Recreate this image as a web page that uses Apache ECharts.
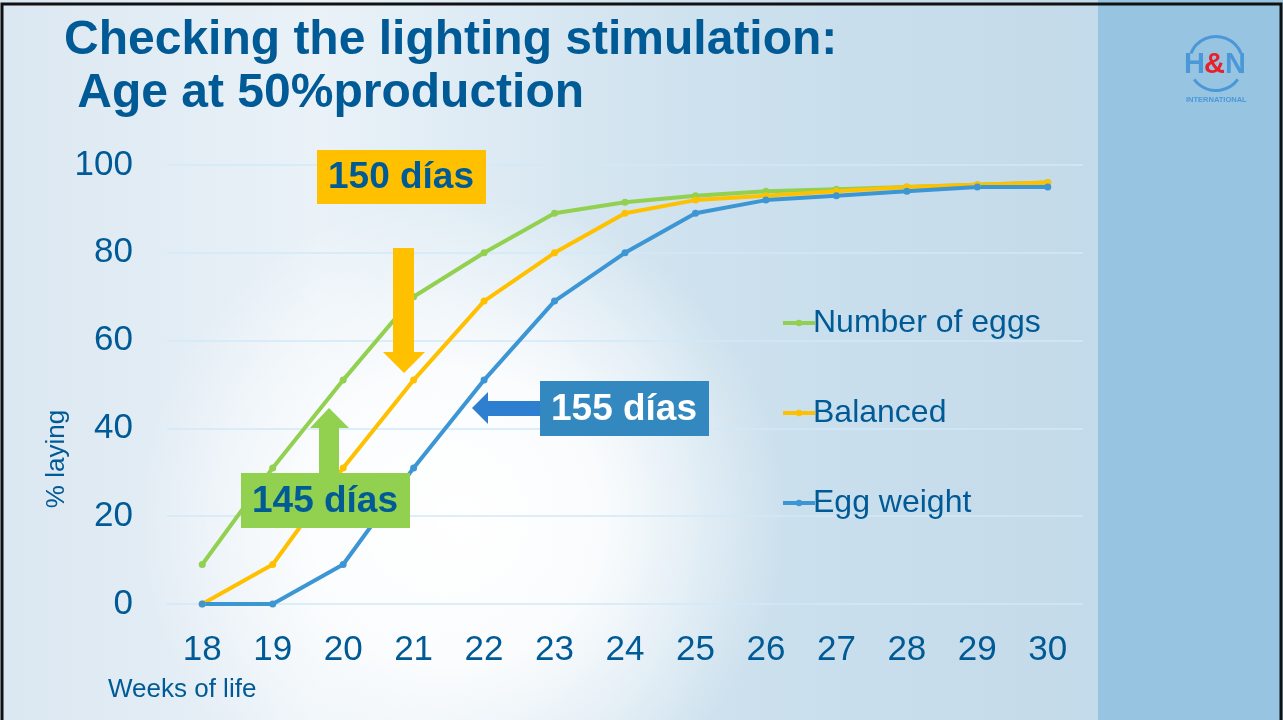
<!DOCTYPE html>
<html>
<head>
<meta charset="utf-8">
<script src="https://cdn.jsdelivr.net/npm/echarts@6/dist/echarts.min.js"></script>
<style>
  html, body { margin: 0; padding: 0; }
  #main { width: 1283px; height: 720px; }
</style>
</head>
<body>
<div id="main"></div>
<script>
// semanas de vida
const weeks = ['18', '19', '20', '21', '22', '23', '24', '25', '26', '27', '28', '29', '30']
// % puesta
const numberOfEggs = [9, 31, 51, 70, 80, 89, 91.5, 93, 94, 94.5, 95, 95.5, 96]
const balanced = [0, 9, 31, 51, 69, 80, 89, 92, 93, 94, 95, 95.5, 96]
const eggWeight = [0, 0, 9, 31, 51, 69, 80, 89, 92, 93, 94, 95, 95]
const yTicks = [0, 20, 40, 60, 80, 100]

const dark = '#005a96'
const green = '#92d050'
const orange = '#ffc000'
const blue = '#3d96d4'
const font = 'Liberation Sans, Arial, sans-serif'

const chart = echarts.init(document.getElementById('main'))

const mkSeries = (name, data, color) => ({
  name: name,
  type: 'line',
  data: data,
  symbol: 'circle',
  symbolSize: 7,
  lineStyle: { width: 4, color: color },
  itemStyle: { color: color },
  z: 3
})

const option = {
  animation: false,
  textStyle: { fontFamily: font },
  grid: { left: 167, right: 200, top: 165, bottom: 116 },
  legend: {
    orient: 'vertical',
    left: 776,
    top: 302,
    itemWidth: 32,
    itemHeight: 8,
    itemGap: 58,
    lineStyle: { width: 4 },
    textStyle: { color: dark, fontSize: 32, lineHeight: 32, fontFamily: font, padding: [0, 0, 0, -7] },
    data: ['Number of eggs', 'Balanced', 'Egg weight']
  },
  xAxis: {
    type: 'category',
    data: weeks,
    boundaryGap: true,
    axisLine: { show: false },
    axisTick: { show: false },
    axisLabel: { color: dark, fontSize: 35, margin: 29, fontFamily: font }
  },
  yAxis: {
    type: 'value',
    min: 0,
    max: 100,
    interval: 20,
    axisLabel: {
      color: dark, fontSize: 35, margin: 34, fontFamily: font,
      formatter: v => yTicks.includes(v) ? String(v) : ''
    },
    splitLine: { lineStyle: { color: '#d2e9f9', width: 1.5 } }
  },
  graphic: [
    // fondo
    {
      type: 'rect', z: -10, silent: true,
      shape: { x: 0, y: 0, width: 1283, height: 720 },
      style: {
        fill: new echarts.graphic.LinearGradient(0, 0, 1, 0, [
          { offset: 0, color: '#dbe7f1' },
          { offset: 0.25, color: '#eaf2f8' },
          { offset: 0.55, color: '#cde1ee' },
          { offset: 1, color: '#bfd7e8' }
        ])
      }
    },
    {
      type: 'rect', z: -9, silent: true,
      shape: { x: 0, y: 0, width: 1283, height: 720 },
      style: {
        fill: new echarts.graphic.RadialGradient(0.36, 0.72, 0.45, [
          { offset: 0, color: 'rgba(255,255,255,1)' },
          { offset: 0.45, color: 'rgba(255,255,255,0.85)' },
          { offset: 1, color: 'rgba(255,255,255,0)' }
        ])
      }
    },
    {
      type: 'rect', z: -8, silent: true,
      shape: { x: 1098, y: 0, width: 185, height: 720 },
      style: { fill: '#97c4e1' }
    },
    {
      type: 'rect', z: 50, silent: true,
      shape: { x: 2, y: 4, width: 1279, height: 720 },
      style: { fill: 'none', stroke: '#111', lineWidth: 3 }
    },
    // titulo
    {
      type: 'text', left: 64, top: 14, z: 10,
      style: {
        text: 'Checking the lighting stimulation:\n Age at 50%production',
        fill: dark, font: 'bold 48px ' + font, lineHeight: 53
      }
    },
    // logo
    {
      type: 'group', left: 1184, top: 34, z: 10,
      children: [
        { type: 'arc', shape: { cx: 32, cy: 26, r: 27, startAngle: Math.PI * 1.12, endAngle: Math.PI * 1.88 }, style: { stroke: '#4a98d8', lineWidth: 3, fill: 'none' } },
        { type: 'arc', shape: { cx: 32, cy: 26, r: 27, startAngle: Math.PI * 0.2, endAngle: Math.PI * 0.8 }, style: { stroke: '#4a98d8', lineWidth: 3, fill: 'none' } },
        { type: 'text', x: 0, y: 13, style: { text: 'H', fill: '#4a98d8', font: 'bold 29px ' + font } },
        { type: 'text', x: 20, y: 13, style: { text: '&', fill: '#e8202a', font: 'bold 29px ' + font } },
        { type: 'text', x: 41, y: 13, style: { text: 'N', fill: '#4a98d8', font: 'bold 29px ' + font } },
        { type: 'text', x: 2, y: 58, style: { text: 'INTERNATIONAL', fill: '#4a98d8', font: 'bold 7.5px ' + font } }
      ]
    },
    // nombres de ejes
    {
      type: 'text', z: 10, x: 57, y: 459, rotation: Math.PI / 2,
      style: { text: '% laying', fill: dark, font: '26px ' + font, align: 'center', verticalAlign: 'middle' }
    },
    {
      type: 'text', left: 108, top: 677, z: 10,
      style: { text: 'Weeks of life', fill: dark, font: '26px ' + font }
    },
    // 150 días
    { type: 'rect', z: 20, shape: { x: 317, y: 150, width: 169, height: 54 }, style: { fill: orange } },
    { type: 'text', z: 21, x: 401, y: 178, style: { text: '150 días', fill: dark, font: 'bold 37px ' + font, align: 'center', verticalAlign: 'middle' } },
    { type: 'polygon', z: 20, shape: { points: [[393, 248], [414, 248], [414, 352], [425, 352], [404, 373], [383, 352], [393, 352]] }, style: { fill: orange } },
    // 145 días
    { type: 'polygon', z: 20, shape: { points: [[319, 473], [319, 428], [310, 428], [329, 408], [349, 428], [339, 428], [339, 473]] }, style: { fill: green } },
    { type: 'rect', z: 20, shape: { x: 241, y: 473, width: 169, height: 55 }, style: { fill: green } },
    { type: 'text', z: 21, x: 325, y: 502, style: { text: '145 días', fill: dark, font: 'bold 37px ' + font, align: 'center', verticalAlign: 'middle' } },
    // 155 días
    { type: 'polygon', z: 20, shape: { points: [[540, 401], [488, 401], [488, 392], [472, 408], [488, 424], [488, 416], [540, 416]] }, style: { fill: '#2e7fd0' } },
    { type: 'rect', z: 20, shape: { x: 540, y: 381, width: 169, height: 55 }, style: { fill: '#3388bf' } },
    { type: 'text', z: 21, x: 624, y: 410, style: { text: '155 días', fill: '#fff', font: 'bold 37px ' + font, align: 'center', verticalAlign: 'middle' } }
  ],
  series: [
    mkSeries('Number of eggs', numberOfEggs, green),
    mkSeries('Balanced', balanced, orange),
    mkSeries('Egg weight', eggWeight, blue)
  ]
}

chart.setOption(option)
</script>
</body>
</html>
